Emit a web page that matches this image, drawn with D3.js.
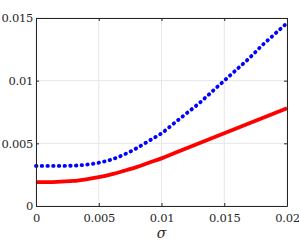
<!DOCTYPE html>
<html>
<head>
<meta charset="utf-8">
<script src="https://cdn.jsdelivr.net/npm/d3@7"></script>
<style>
  body { margin: 0; background: #fff; }
</style>
</head>
<body>
<div id="chart"></div>
<script>
// data
var sigma = [0, 0.001, 0.002, 0.003, 0.004, 0.005, 0.006, 0.007, 0.008, 0.009, 0.01, 0.011, 0.012, 0.013, 0.014, 0.015, 0.016, 0.017, 0.018, 0.019, 0.02];
var redVals = [0.0019, 0.0019, 0.00195, 0.002, 0.00213, 0.0023, 0.00252, 0.0028, 0.0031, 0.00345, 0.0038, 0.0042, 0.0046, 0.005, 0.0054, 0.0058, 0.0062, 0.0066, 0.007, 0.0074, 0.0078];
var blueVals = [0.0032, 0.0032, 0.0032, 0.00322, 0.0033, 0.00345, 0.0037, 0.0041, 0.0046, 0.0052, 0.0058, 0.0066, 0.0074, 0.0082, 0.0091, 0.01, 0.0109, 0.0118, 0.0128, 0.0137, 0.0146];
var xTicks = [0, 0.005, 0.01, 0.015, 0.02];
var yTicks = [0, 0.005, 0.01, 0.015];

var W = 299, H = 244;
var margin = {top: 18, right: 12, bottom: 38, left: 36};
var width = W - margin.left - margin.right,
    height = H - margin.top - margin.bottom;

var svg = d3.select('#chart').append('svg')
    .attr('width', W)
    .attr('height', H);
var g = svg.append('g')
    .attr('transform', 'translate(' + margin.left + ',' + margin.top + ')');

var x = d3.scaleLinear().domain([0, 0.02]).range([0, width]);
var y = d3.scaleLinear().domain([0, 0.015]).range([height, 0]);

// grid
g.selectAll('.gx').data(xTicks).enter().append('line')
    .attr('x1', function(d) { return x(d); }).attr('x2', function(d) { return x(d); })
    .attr('y1', 0).attr('y2', height)
    .style('stroke', '#e6e6e6').style('stroke-width', 1);
g.selectAll('.gy').data(yTicks).enter().append('line')
    .attr('y1', function(d) { return y(d); }).attr('y2', function(d) { return y(d); })
    .attr('x1', 0).attr('x2', width)
    .style('stroke', '#e6e6e6').style('stroke-width', 1);

// lines
var line = d3.line()
    .x(function(d) { return x(d[0]); })
    .y(function(d) { return y(d[1]); })
    .curve(d3.curveMonotoneX);

g.append('path')
    .datum(d3.zip(sigma, redVals))
    .attr('d', line)
    .style('fill', 'none').style('stroke', '#ff0000').style('stroke-width', 3.8);

g.append('path')
    .datum(d3.zip(sigma, blueVals))
    .attr('d', line)
    .style('fill', 'none').style('stroke', '#0000ff').style('stroke-width', 3.8)
    .style('stroke-dasharray', '0.5,5.2').style('stroke-linecap', 'round');

// axes
var axColor = '#262626';
var font = 'DejaVu Serif';
var xAxis = g.append('g')
    .attr('transform', 'translate(0,' + height + ')')
    .call(d3.axisBottom(x).tickValues(xTicks).tickFormat(d3.format('')).tickSizeInner(-3).tickSizeOuter(0).tickPadding(8));
var yAxis = g.append('g')
    .call(d3.axisLeft(y).tickValues(yTicks).tickFormat(d3.format('')).tickSizeInner(-3).tickSizeOuter(0).tickPadding(3));
var xTop = g.append('g')
    .call(d3.axisTop(x).tickValues(xTicks).tickFormat('').tickSizeInner(-3).tickSizeOuter(0));
var yRight = g.append('g')
    .attr('transform', 'translate(' + width + ',0)')
    .call(d3.axisRight(y).tickValues(yTicks).tickFormat('').tickSizeInner(-3).tickSizeOuter(0));

[xAxis, yAxis, xTop, yRight].forEach(function(a) {
    a.select('.domain').style('stroke', axColor).style('stroke-width', 1);
    a.selectAll('.tick line').style('stroke', axColor);
    a.selectAll('.tick text').style('fill', axColor)
        .style('font-family', font).style('font-size', '11.5px')
        .style('letter-spacing', '-0.3px');
});

g.append('text')
    .attr('x', width / 2).attr('y', height + 32)
    .attr('text-anchor', 'middle')
    .style('font-family', font)
    .style('font-size', '14px').style('font-style', 'italic').style('fill', axColor)
    .text('σ');
</script>
</body>
</html>
